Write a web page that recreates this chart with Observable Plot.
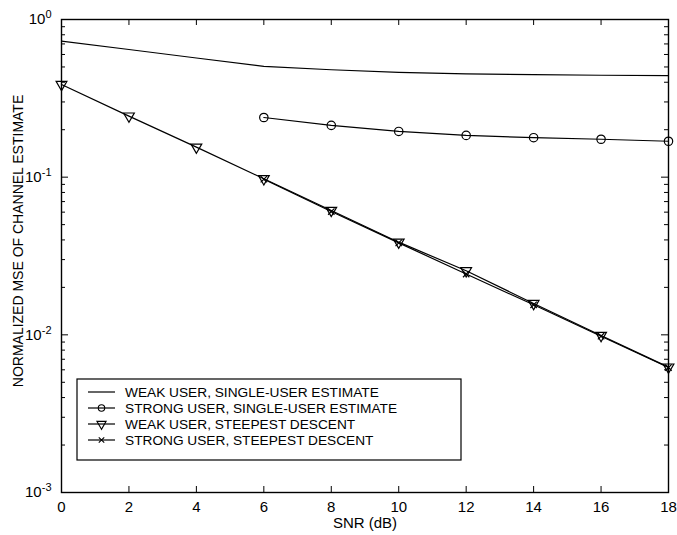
<!DOCTYPE html>
<html>
<head>
<meta charset="utf-8">
<script src="https://cdn.jsdelivr.net/npm/d3@7"></script>
<script src="https://cdn.jsdelivr.net/npm/@observablehq/plot@0.6"></script>
<style>
  html, body { margin: 0; padding: 0; background: white; }
  #chart { width: 677px; height: 535px; }
</style>
</head>
<body>
<div id="chart"></div>
<script>
// ---- data ----
const snr = [0, 2, 4, 6, 8, 10, 12, 14, 16, 18];
const snrStrongSingle = [6, 8, 10, 12, 14, 16, 18];
const snrStrongSD = [6, 8, 10, 12, 14, 16, 18];

const weakSingle = [0.73, 0.645, 0.57, 0.505, 0.48, 0.462, 0.452, 0.447, 0.443, 0.44];
const strongSingle = [0.239, 0.213, 0.195, 0.184, 0.178, 0.174, 0.169];
const weakSD = [0.387, 0.244, 0.155, 0.0977, 0.0615, 0.0387, 0.0255, 0.0158, 0.0099, 0.00624];
const strongSD = [0.097, 0.0605, 0.0383, 0.0243, 0.0155, 0.0098, 0.0062];

const seriesNames = [
  "WEAK USER, SINGLE-USER ESTIMATE",
  "STRONG USER, SINGLE-USER ESTIMATE",
  "WEAK USER, STEEPEST DESCENT",
  "STRONG USER, STEEPEST DESCENT"
];
const xTicks = [0, 2, 4, 6, 8, 10, 12, 14, 16, 18];
const yMajor = [1e-3, 1e-2, 1e-1, 1];
const yMinor = [];
for (const d of [-3, -2, -1]) for (let m = 2; m <= 9; m++) yMinor.push(m * Math.pow(10, d));
const xLabel = "SNR (dB)";
const yLabel = "NORMALIZED MSE OF CHANNEL ESTIMATE";

// ---- build tables ----
const tWeakSingle = snr.map((x, i) => ({x, y: weakSingle[i]}));
const tStrongSingle = snrStrongSingle.map((x, i) => ({x, y: strongSingle[i]}));
const tWeakSD = snr.map((x, i) => ({x, y: weakSD[i]}));
const tStrongSD = snrStrongSD.map((x, i) => ({x, y: strongSD[i]}));

const W = 677, H = 535, ML = 61, MR = 9, MT = 19, MB = 43;
const IW = W - ML - MR, IH = H - MT - MB;
const font = "'Liberation Sans', Arial, Helvetica, sans-serif";

const chart = Plot.plot({
  width: W, height: H,
  marginLeft: ML, marginRight: MR, marginTop: MT, marginBottom: MB,
  style: {fontFamily: font, fontSize: "14px", background: "white", color: "black", overflow: "visible"},
  x: {domain: [0, 18]},
  y: {type: "log", domain: [1e-3, 1]},
  marks: [
    // tick marks (inward)
    Plot.tickY(yMinor, {y: d => d, insetRight: IW - 4, stroke: "black", strokeWidth: 1}),
    Plot.tickY(yMinor, {y: d => d, insetLeft: IW - 4, stroke: "black", strokeWidth: 1}),
    Plot.tickY(yMajor, {y: d => d, insetRight: IW - 7, stroke: "black", strokeWidth: 1}),
    Plot.tickY(yMajor, {y: d => d, insetLeft: IW - 7, stroke: "black", strokeWidth: 1}),
    Plot.tickX(xTicks, {x: d => d, insetBottom: IH - 6, stroke: "black", strokeWidth: 1}),
    Plot.tickX(xTicks, {x: d => d, insetTop: IH - 6, stroke: "black", strokeWidth: 1}),
    Plot.axisX({ticks: xTicks, tickSize: 0, tickPadding: 9, tickFormat: d => String(d), fontSize: 15,
      label: xLabel, labelAnchor: "center", labelOffset: 35, labelArrow: "none"}),
    Plot.axisY({ticks: yMajor, tickSize: 0, tickPadding: 10, tickFormat: d => String(Math.round(Math.log10(d))), fontSize: 15,
      label: yLabel, labelAnchor: "center", labelOffset: 48, labelArrow: "none"}),
    // series
    Plot.line(tWeakSingle, {x: "x", y: "y", stroke: "black", strokeWidth: 1.2}),
    Plot.line(tStrongSingle, {x: "x", y: "y", stroke: "black", strokeWidth: 1.2}),
    Plot.dot(tStrongSingle, {x: "x", y: "y", symbol: "circle", r: 4.2, stroke: "black", fill: "none", strokeWidth: 1.2}),
    Plot.line(tWeakSD, {x: "x", y: "y", stroke: "black", strokeWidth: 1.2}),
    Plot.dot(tWeakSD, {x: "x", y: "y", symbol: "triangle", rotate: 180, r: 4, stroke: "black", fill: "none", strokeWidth: 1.2}),
    Plot.line(tStrongSD, {x: "x", y: "y", stroke: "black", strokeWidth: 1.2}),
    Plot.dot(tStrongSD, {x: "x", y: "y", symbol: "times", r: 3, stroke: "black", fill: "none", strokeWidth: 1.2}),
    Plot.frame({stroke: "black", strokeWidth: 1.4})
  ]
});

document.getElementById("chart").appendChild(chart);

const svg = d3.select(chart);
// superscript exponents on y tick labels
svg.selectAll('g[aria-label="y-axis tick label"] text').each(function() {
  const t = d3.select(this);
  const e = t.text();
  t.text("");
  t.append("tspan").text("10");
  t.append("tspan").attr("dy", "-0.55em").attr("font-size", "11px").text(e);
});
// y label: slightly smaller and a little above the plot centre, as in the reference
svg.selectAll('g[aria-label="y-axis label"]').each(function() {
  const g = d3.select(this);
  const tr = g.attr("transform") || "";
  g.attr("transform", "translate(0,-15) " + tr).attr("font-size", 14);
  g.selectAll("text").attr("font-size", 14);
});
svg.selectAll('g[aria-label="x-axis label"]').attr("font-size", 15);

// legend (inside plot area, lower-left)
const lg = svg.append("g").attr("font-family", font).attr("font-size", "13.7px")
  .attr("text-anchor", "start");
const bx = 77, by = 379, bw = 384, bh = 81, rowH = 16, row0 = 392;
lg.append("rect").attr("x", bx).attr("y", by).attr("width", bw).attr("height", bh)
  .attr("fill", "white").attr("stroke", "black").attr("stroke-width", 1.2);
const symbolsLegend = [null, d3.symbolCircle, d3.symbolTriangle, d3.symbolTimes];
const symSizes = [0, Math.PI * 3.2 * 3.2, 3.4 * 3.4 * Math.PI, 2.6 * 2.6 * Math.PI];
seriesNames.forEach((name, i) => {
  const y = row0 + i * rowH;
  lg.append("line").attr("x1", 88).attr("x2", 115).attr("y1", y).attr("y2", y)
    .attr("stroke", "black").attr("stroke-width", 1.2);
  if (symbolsLegend[i]) {
    lg.append("path").attr("d", d3.symbol(symbolsLegend[i], symSizes[i])())
      .attr("transform", `translate(101.5,${y})` + (i === 2 ? " rotate(180)" : ""))
      .attr("fill", "none").attr("stroke", "black").attr("stroke-width", 1.1);
  }
  lg.append("text").attr("x", 125).attr("y", y).attr("dy", "0.35em")
    .attr("text-anchor", "start").attr("fill", "black").text(name);
});
</script>
</body>
</html>
